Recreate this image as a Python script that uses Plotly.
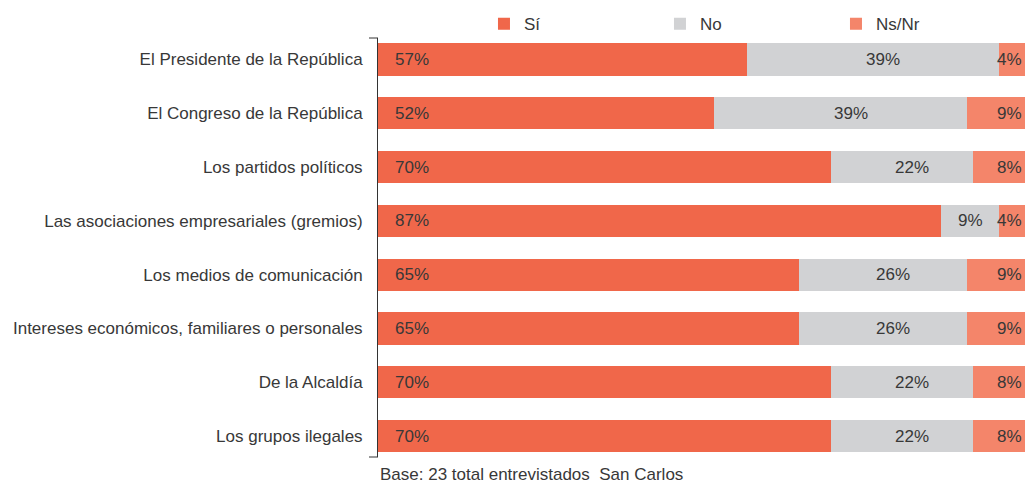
import plotly.graph_objects as go

categories = [
    "El Presidente de la República",
    "El Congreso de la República",
    "Los partidos políticos",
    "Las asociaciones empresariales (gremios)",
    "Los medios de comunicación",
    "Intereses económicos, familiares o personales",
    "De la Alcaldía",
    "Los grupos ilegales",
]
si = [57, 52, 70, 87, 65, 65, 70, 70]
no = [39, 39, 22, 9, 26, 26, 22, 22]
nsnr = [4, 9, 8, 4, 9, 9, 8, 8]
series_names = ["Sí", "No", "Ns/Nr"]
footer = "Base: 23 total entrevistados\u00a0 San Carlos"

FONT = "Liberation Sans, Arial, sans-serif"
FS = 17
TXT = "#383838"
colors = ["#F0674A", "#D1D2D4", "#F4856A"]

fig = go.Figure()
for name, vals, col in zip(series_names, [si, no, nsnr], colors):
    fig.add_trace(go.Bar(
        y=categories, x=vals, name=name, orientation="h",
        marker=dict(color=col, line=dict(width=0)),
        width=0.6, hoverinfo="x+y+name",
    ))

annotations = []
for i, cat in enumerate(categories):
    annotations.append(dict(x=0, y=cat, text=f"{si[i]}%", xanchor="left", xshift=15,
                            showarrow=False, font=dict(family=FONT, size=FS, color=TXT)))
    shift = 10 if no[i] >= 15 else 0
    annotations.append(dict(x=si[i] + no[i] / 2, y=cat, text=f"{no[i]}%", xanchor="center",
                            xshift=shift, showarrow=False,
                            font=dict(family=FONT, size=FS, color=TXT)))
    annotations.append(dict(x=100, y=cat, text=f"{nsnr[i]}%", xanchor="right", xshift=-1,
                            showarrow=False, font=dict(family=FONT, size=FS, color=TXT)))
annotations.append(dict(x=0, y=0, xref="paper", yref="paper", yanchor="top", yshift=-6,
                        xanchor="left", text=footer, showarrow=False,
                        font=dict(family=FONT, size=FS, color=TXT)))

fig.update_layout(
    width=1025, height=485,
    margin=dict(l=378, r=0, t=38, b=28, autoexpand=False),
    barmode="stack",
    plot_bgcolor="white", paper_bgcolor="white",
    font=dict(family=FONT, size=FS, color=TXT),
    xaxis=dict(range=[0, 100], visible=False, fixedrange=True),
    yaxis=dict(range=[7.39, -0.4], autorange=False, showline=True, linecolor="#333333",
               linewidth=1, ticks="", showgrid=False, ticklabelstandoff=11,
               automargin=False,
               tickfont=dict(family=FONT, size=FS, color=TXT), fixedrange=True),
    showlegend=True,
    legend=dict(orientation="h", x=0.1638, xanchor="left", y=1.033, yanchor="middle",
                entrywidth=131, entrywidthmode="pixels", traceorder="normal",
                font=dict(family=FONT, size=FS, color=TXT), bgcolor="rgba(0,0,0,0)"),
    annotations=annotations,
    shapes=[
        dict(type="line", xref="paper", yref="paper", x0=-0.0139, x1=0, y0=1, y1=1,
             line=dict(color="#333333", width=1)),
        dict(type="line", xref="paper", yref="paper", x0=-0.0139, x1=0, y0=0, y1=0,
             line=dict(color="#333333", width=1)),
    ],
)

fig.write_html("out.html", config={"displayModeBar": False},
               post_script="document.body.style.margin='0';document.body.style.overflow='hidden';")
